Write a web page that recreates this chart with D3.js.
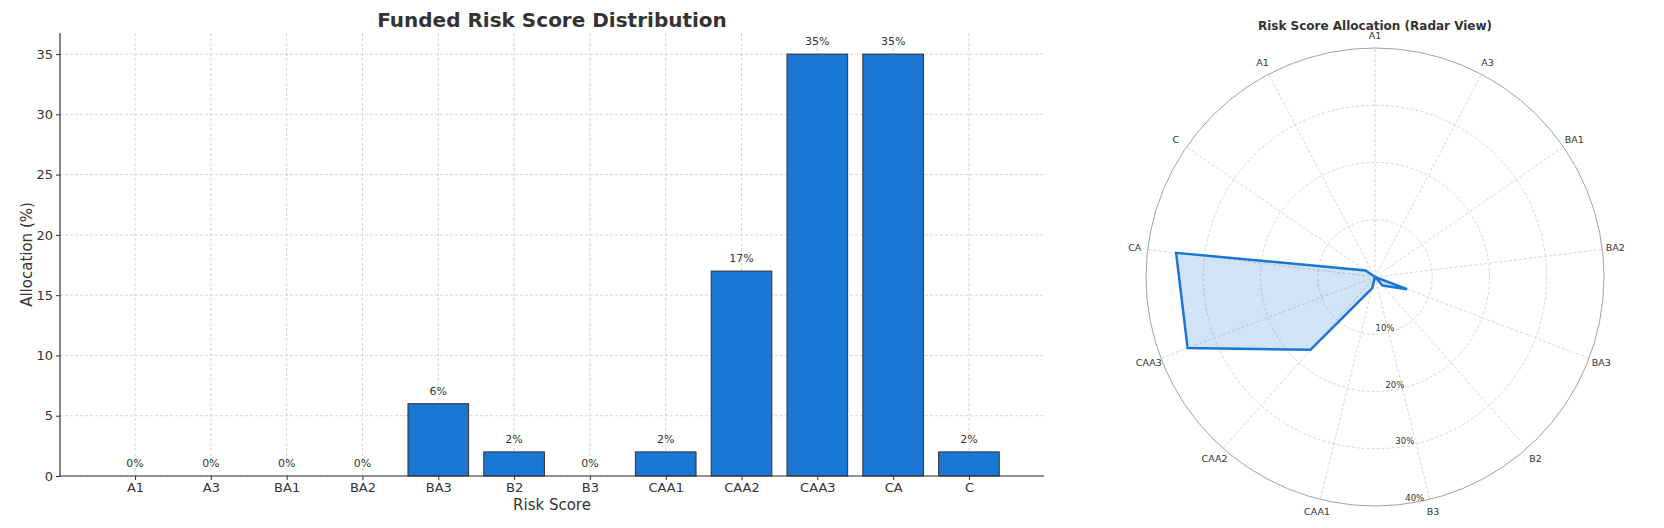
<!DOCTYPE html>
<meta charset="utf-8">
<style>
body { margin: 0; background: #fff; }
text { font-family: "DejaVu Sans", sans-serif; fill: #333; }
.grid line { stroke: #ccc; stroke-dasharray: 3,2; stroke-width: 0.8; }
</style>
<body>
<svg id="chart" width="1664" height="528"></svg>
<script src="https://d3js.org/d3.v7.min.js"></script>
<script>

// bar chart data
var categories = ["A1","A3","BA1","BA2","BA3","B2","B3","CAA1","CAA2","CAA3","CA","C"];
var allocation = [0,0,0,0,6,2,0,2,17,35,35,2];
var yTicks = [0,5,10,15,20,25,30,35];

// radar: 13 spokes, first label repeated at the end
var radarLabels = ["A1","A3","BA1","BA2","BA3","B2","B3","CAA1","CAA2","CAA3","CA","C","A1"];
var radarValues = [0,0,0,0,6,2,0,2,17,35,35,2,0];
var rTicks = [10,20,30,40];

var blue = "#1976d2";
var svg = d3.select("#chart");

// ---------- bar chart ----------
var pLeft = 60, pRight = 1044, pTop = 33, pBottom = 476;

var x = d3.scaleLinear().domain([-0.99, categories.length - 0.01]).range([pLeft, pRight]);
var y = d3.scaleLinear().domain([0, 36.75]).range([pBottom, pTop]);

var g = svg.append("g");

g.append("g").attr("class", "grid")
  .selectAll("line").data(yTicks).enter().append("line")
  .attr("x1", pLeft).attr("x2", pRight)
  .attr("y1", d => y(d)).attr("y2", d => y(d));
g.append("g").attr("class", "grid")
  .selectAll("line").data(categories).enter().append("line")
  .attr("x1", (d, i) => x(i)).attr("x2", (d, i) => x(i))
  .attr("y1", pTop).attr("y2", pBottom);

var bw = x(0.8) - x(0);
g.selectAll(".bar").data(allocation).enter().append("rect")
  .attr("class", "bar")
  .attr("x", (d, i) => x(i) - bw / 2)
  .attr("width", bw)
  .attr("y", d => y(d))
  .attr("height", d => pBottom - y(d))
  .attr("fill", blue)
  .attr("stroke", "#333")
  .attr("stroke-width", 1);

g.selectAll(".lbl").data(allocation).enter().append("text")
  .attr("x", (d, i) => x(i))
  .attr("y", d => y(d) - 9)
  .attr("text-anchor", "middle")
  .style("font-size", "11px")
  .text(d => d + "%");

var yAxis = g.append("g").attr("transform", "translate(" + pLeft + ",0)")
  .call(d3.axisLeft(y).tickValues(yTicks).tickSize(4).tickSizeOuter(0));
var xAxis = g.append("g").attr("transform", "translate(0," + pBottom + ")")
  .call(d3.axisBottom(x).tickValues(d3.range(categories.length))
    .tickFormat(i => categories[i]).tickSize(4).tickSizeOuter(0));
[yAxis, xAxis].forEach(function(a) {
  a.selectAll("text").style("font-size", "13px").attr("fill", "#333");
  a.select(".domain").attr("stroke", "#333").attr("stroke-width", 1.2);
  a.selectAll(".tick line").attr("stroke", "#333");
});
xAxis.select(".domain").attr("d", "M" + pLeft + ",0H" + pRight);
yAxis.select(".domain").attr("d", "M0," + (pBottom - pBottom) + "V0").attr("d", null);
g.append("line").attr("x1", pLeft).attr("x2", pLeft).attr("y1", pTop).attr("y2", pBottom)
  .attr("stroke", "#333").attr("stroke-width", 1.2);

g.append("text").attr("x", (pLeft + pRight) / 2).attr("y", 27)
  .attr("text-anchor", "middle").style("font-size", "20px").style("font-weight", "bold")
  .text("Funded Risk Score Distribution");
g.append("text").attr("x", (pLeft + pRight) / 2).attr("y", 510)
  .attr("text-anchor", "middle").style("font-size", "15px").text("Risk Score");
g.append("text").attr("transform", "translate(32," + (pTop + pBottom) / 2 + ") rotate(-90)")
  .attr("text-anchor", "middle").style("font-size", "15px").text("Allocation (%)");

// ---------- radar ----------
var cx = 1375, cy = 277;
var r = d3.scaleLinear().domain([0, 40]).range([0, 229]);
var n = radarLabels.length;
var ang = d3.scaleLinear().domain([0, n]).range([0, 2 * Math.PI]);

var rg = svg.append("g").attr("transform", "translate(" + cx + "," + cy + ")");

rg.append("g").attr("class", "grid").selectAll("line").data(radarLabels).enter().append("line")
  .attr("x1", 0).attr("y1", 0)
  .attr("x2", (d, i) => r(40) * Math.sin(ang(i)))
  .attr("y2", (d, i) => -r(40) * Math.cos(ang(i)));

rg.selectAll(".ring").data(rTicks).enter().append("circle")
  .attr("r", d => r(d)).attr("fill", "none")
  .attr("stroke", d => d === 40 ? "#9aa3a8" : "#ccc")
  .attr("stroke-width", d => d === 40 ? 1 : 0.8)
  .attr("stroke-dasharray", d => d === 40 ? null : "3,2");

var radial = d3.lineRadial().angle((d, i) => ang(i)).radius(d => r(d)).curve(d3.curveLinearClosed);
rg.append("path").datum(radarValues)
  .attr("d", radial)
  .attr("fill", blue).attr("fill-opacity", 0.2)
  .attr("stroke", blue).attr("stroke-width", 2.5).attr("stroke-linejoin", "miter");

rg.selectAll(".axlbl").data(radarLabels).enter().append("text")
  .attr("x", (d, i) => (r(40) + 13) * Math.sin(ang(i)))
  .attr("y", (d, i) => -(r(40) + 13) * Math.cos(ang(i)) + 3.5)
  .attr("text-anchor", "middle").style("font-size", "9.5px").attr("fill", "#444")
  .text(d => d);

var la = 170 * Math.PI / 180;
rg.selectAll(".rlbl").data(rTicks).enter().append("text")
  .attr("x", d => r(d) * Math.sin(la))
  .attr("y", d => -r(d) * Math.cos(la) - 2)
  .attr("text-anchor", "middle").style("font-size", "8.5px").attr("fill", "#444")
  .text(d => d + "%");

svg.append("text").attr("x", cx).attr("y", 30)
  .attr("text-anchor", "middle").style("font-size", "12px").style("font-weight", "bold")
  .text("Risk Score Allocation (Radar View)");

</script>
</body>
